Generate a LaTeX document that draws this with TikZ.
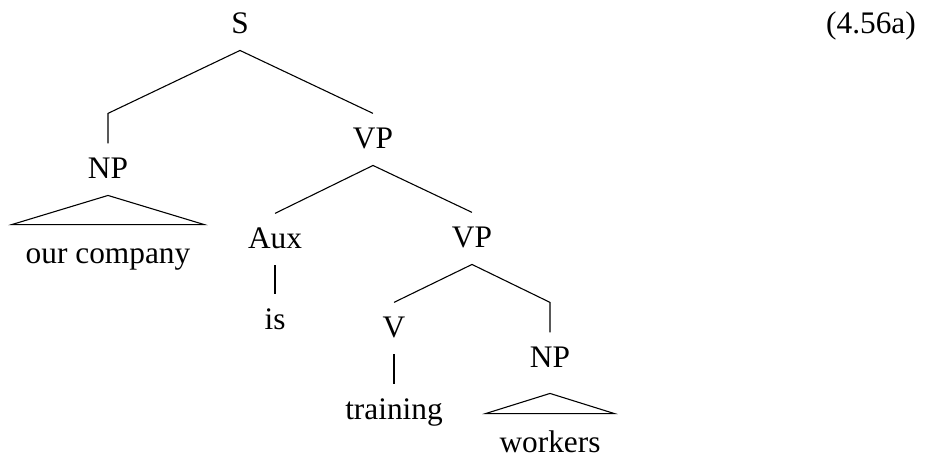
\documentclass[tikz,border=0pt]{standalone}
\usepackage{fontspec}
\setmainfont{Liberation Serif}
\usepackage{tikz}

\begin{document}
\begin{tikzpicture}[x=0.0129cm,y=-0.0129cm,
		cat/.style={anchor=base,inner xsep=0pt,inner ysep=4.5pt,text height=8pt,text depth=1.7pt,font=\fontsize{11.5}{13}\selectfont},
		roof/.style={cat,inner xsep=4.9pt,text height=9.4pt}]
		\useasboundingbox (0,0) rectangle (932,458);

		\node[cat] (s) at (240,33) {S};
		\node[cat] (num) at (871,33) {(4.56a)};
		
		\node[cat] (np) at (108,178) {NP};
		\node[cat] (vp) at (373,148) {VP};
		
			\node[roof] (comp) at (108,263) {our company};
			
			\node[cat] (aux) at (275,248) {Aux};
			\node[cat] (vpb) at (472,247) {VP};
			
				\node[cat] (is) at (275,329) {is};
				
				\node[cat] (v) at (394,337) {V};
				\node[cat] (npb) at (550,367) {NP};
				
					\node[cat] (trn) at (394,419) {training};
					\node[roof] (wrk) at (550,452) {workers};

		% branches
		\draw (s.south) -- (np.north |- vp.north) -- (np.north);
		\draw (s.south) -- (vp.north);
		
		\draw (np.south) -- (comp.north west) -- (comp.north east) -- cycle;
		
		\draw (vp.south) -- (aux.north);
		\draw (vp.south) -- (vpb.north);
		
		\draw (aux.south) -- (is.north);
		
		\draw (vpb.south) -- (v.north);
		\draw (vpb.south) -- (npb.north |- v.north) -- (npb.north);
		
		\draw (v.south) -- (trn.north);
		\draw ([yshift=-3.3pt]npb.south) -- (wrk.north west) -- (wrk.north east) -- cycle;
		
\end{tikzpicture}
\end{document}
